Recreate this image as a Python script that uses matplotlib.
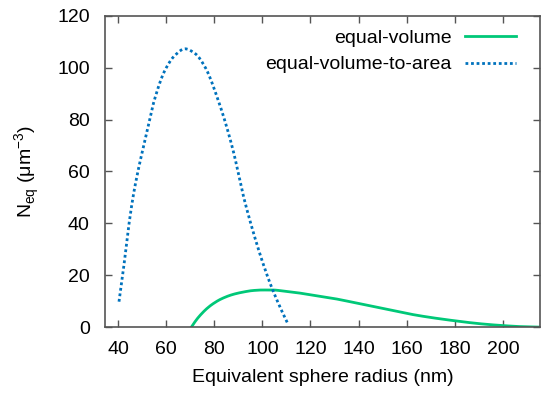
import matplotlib
matplotlib.use("Agg")
import matplotlib.pyplot as plt
import numpy as np

plt.rcParams['font.family'] = ['Liberation Sans', 'DejaVu Sans']

# equal-volume (green)
r_vol = [70.5, 71.5, 73, 75, 77, 79.5, 83, 87.8, 92, 96.1, 100, 104.4, 108, 112.7,
         121, 129.3, 138, 150.1, 164, 177.8, 191.6, 201.3, 207, 215]
n_vol = [0.0, 1.4, 3.3, 5.4, 7.2, 9.0, 10.9, 12.6, 13.5, 14.1, 14.3, 14.3, 14.0, 13.5,
         12.3, 11.1, 9.5, 7.2, 4.6, 2.7, 1.2, 0.5, 0.2, 0.0]

# equal-volume-to-area (blue dotted)
r_va = [40.4, 42.2, 44.3, 46.3, 48.4, 50.8, 52.6, 55.1, 59.5, 63.7, 67.8, 72, 76.1,
        81.6, 87.8, 92, 96.1, 100.3, 103.8, 107.9, 110.5]
n_va = [9.8, 22, 38, 50.5, 60.6, 70.5, 78, 87.5, 99, 104.8, 107.3, 105.5, 100.4,
        87.6, 68.3, 51, 37, 24.5, 15.5, 6.6, 1.5]

xticks = [40, 60, 80, 100, 120, 140, 160, 180, 200]
yticks = [0, 20, 40, 60, 80, 100, 120]


def pchip(x, y, n=500):
    x = np.asarray(x, float); y = np.asarray(y, float)
    h = np.diff(x); d = np.diff(y) / h
    m = np.zeros_like(y)
    for k in range(1, len(x) - 1):
        if d[k - 1] * d[k] <= 0:
            m[k] = 0
        else:
            w1 = 2 * h[k] + h[k - 1]; w2 = h[k] + 2 * h[k - 1]
            m[k] = (w1 + w2) / (w1 / d[k - 1] + w2 / d[k])
    m[0] = d[0]; m[-1] = d[-1]
    xx = np.linspace(x[0], x[-1], n)
    k = np.clip(np.searchsorted(x, xx, side='right') - 1, 0, len(x) - 2)
    s = (xx - x[k]) / h[k]
    h00 = 2*s**3 - 3*s**2 + 1; h10 = s**3 - 2*s**2 + s
    h01 = -2*s**3 + 3*s**2; h11 = s**3 - s**2
    yy = h00*y[k] + h10*h[k]*m[k] + h01*y[k+1] + h11*h[k]*m[k+1]
    return xx, yy


fig = plt.figure(figsize=(5.5, 3.96), dpi=100)
ax = fig.add_axes([0.191, 0.174, 0.791, 0.786])

xv, yv = pchip(r_vol, n_vol)
xa, ya = pchip(r_va, n_va)
ax.plot(xv, yv, color='#00c878', lw=2, label='equal-volume')
ax.plot(xa, ya, color='#0072bd', lw=2, linestyle=(0, (1, 1)), label='equal-volume-to-area')

ax.set_xlim(34.6, 215.5)
ax.set_ylim(0, 120)
ax.set_xticks(xticks)
ax.set_yticks(yticks)
ax.tick_params(direction='in', top=True, right=True, length=5, width=1,
               color='#555555', labelsize=14)
ax.tick_params(axis='x', pad=10)
ax.tick_params(axis='y', pad=11)
for s in ax.spines.values():
    s.set_color('#555555')
    s.set_linewidth(1.2)

ax.set_xlabel('Equivalent sphere radius (nm)', fontsize=14, labelpad=8)
ax.set_ylabel(r'N$_{\mathregular{eq}}$ ($\mathregular{\mu}$m$^{\mathregular{-3}}$)', fontsize=14, labelpad=11)

leg = ax.legend(loc='upper right', frameon=False, markerfirst=False, fontsize=14,
                handlelength=2.6, handletextpad=0.7, borderaxespad=0.3,
                labelspacing=0.45, bbox_to_anchor=(0.975, 1.0))

fig.savefig('out.png', dpi=100)
